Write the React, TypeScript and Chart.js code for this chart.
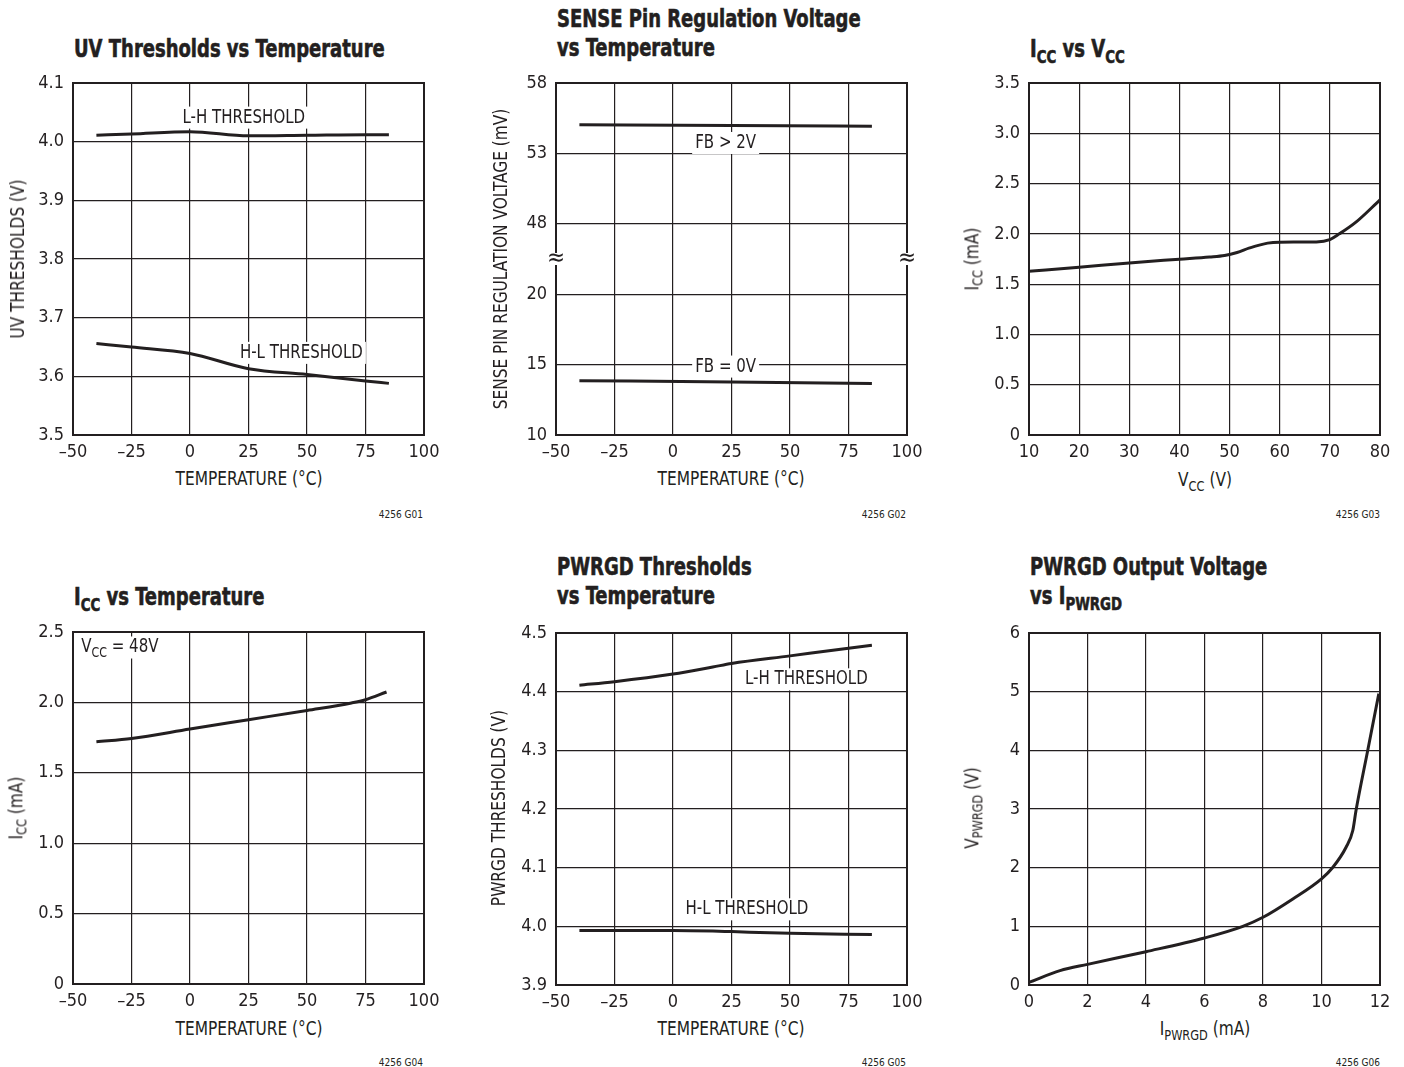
import React, { useEffect, useRef } from "react";
import { Chart, registerables } from "chart.js";
Chart.register(...registerables);

const FONT = '"Liberation Sans Narrow", "DejaVu Sans Condensed", "Arial Narrow", sans-serif';
const INK = "#231f20";

// ---------- Panel 1: UV thresholds vs temperature ----------
const uvTemp = [-40, -25, 0, 25, 50, 75, 85];
const uvLH = [4.011, 4.013, 4.017, 4.01, 4.011, 4.012, 4.012];
const uvHL = [3.656, 3.65, 3.639, 3.613, 3.603, 3.592, 3.588];

// ---------- Panel 2: SENSE pin regulation voltage (mV) ----------
const senseTemp = [-40, 25, 85];
const senseFB2V = [55.04, 54.98, 54.93];
const senseFB0V = [13.86, 13.77, 13.66];
const senseTicks = [10, 15, 20, 48, 53, 58];

// ---------- Panel 3: Icc vs Vcc ----------
const vccV = [10, 20, 30, 40, 46, 49, 51.5, 54, 57.6, 60, 67.3, 70, 71.9, 75.2, 80];
const vccI = [1.628, 1.668, 1.711, 1.748, 1.77, 1.785, 1.815, 1.86, 1.908, 1.917, 1.92, 1.943, 2.0, 2.116, 2.338];

// ---------- Panel 4: Icc vs temperature ----------
const iccTemp = [-40, -25, 0, 25, 50, 69, 75, 84];
const iccVal = [1.721, 1.744, 1.811, 1.877, 1.943, 1.996, 2.019, 2.074];

// ---------- Panel 5: PWRGD thresholds vs temperature ----------
const pgLHTemp = [-40, -25, 0, 17, 25, 50, 75, 85];
const pgLH = [4.411, 4.417, 4.43, 4.442, 4.448, 4.461, 4.474, 4.479];
const pgHLTemp = [-40, 0, 17, 25, 50, 85];
const pgHL = [3.993, 3.993, 3.992, 3.991, 3.988, 3.986];

// ---------- Panel 6: PWRGD output voltage vs I ----------
const pwI = [0, 1.06, 2, 4, 6, 7.31, 8, 9.02, 10, 10.39, 10.84, 11.07, 11.18, 11.58, 11.96];
const pwV = [0.045, 0.244, 0.352, 0.568, 0.802, 1.0, 1.154, 1.467, 1.809, 2.007, 2.348, 2.633, 2.974, 3.998, 4.966];

const senseMap = (mv: number) => (mv >= 48 ? 3 + (mv - 48) / 5 : (mv - 10) / 5);

type Part = { t: string; sub?: boolean };
type Note = { x: number; y: number; parts: Part[]; align: "center" | "left" };

const CW = 431;
const CH = 394;
const PAD_L = 60;
const PAD_T = 12;
const NARROW = 0.88;

function drawRich(ctx: CanvasRenderingContext2D, parts: Part[], x: number, y: number, align: string, size: number) {
  const big = `${size}px ${FONT}`;
  const small = `${Math.round(size * 0.72)}px ${FONT}`;
  let w = 0;
  const widths = parts.map((p) => {
    ctx.font = p.sub ? small : big;
    const m = ctx.measureText(p.t).width;
    w += m;
    return m;
  });
  const sw = w * NARROW;
  const x0 = align === "center" ? x - sw / 2 : x;
  ctx.fillStyle = "#fff";
  ctx.fillRect(x0 - 3, y - size * 0.58, sw + 6, size * 1.16);
  ctx.save();
  ctx.translate(x0, y);
  ctx.scale(NARROW, 1);
  ctx.fillStyle = INK;
  ctx.textBaseline = "middle";
  ctx.textAlign = "left";
  let cx = 0;
  parts.forEach((p, i) => {
    ctx.font = p.sub ? small : big;
    ctx.fillText(p.t, cx, p.sub ? size * 0.3 : 0);
    cx += widths[i];
  });
  ctx.restore();
}

const dash = (v: number) => (v < 0 ? "\u2013" + Math.abs(v) : String(v));

function buildConfig(p: {
  xMin: number; xMax: number; xStep: number;
  yMin: number; yMax: number; yStep: number;
  xFmt: (v: number) => string; yFmt: (v: number) => string;
  series: { x: number[]; y: number[] }[];
  notes?: Note[];
  breakMark?: number;
}): any {
  const overlay = {
    id: "overlay",
    afterDatasetsDraw(chart: any) {
      const ctx = chart.ctx as CanvasRenderingContext2D;
      const a = chart.chartArea;
      const xs = chart.scales.x;
      const ys = chart.scales.y;
      ctx.save();
      (p.notes || []).forEach((n) => {
        drawRich(ctx, n.parts, xs.getPixelForValue(n.x), ys.getPixelForValue(n.y), n.align, 19);
      });
      ctx.strokeStyle = INK;
      ctx.lineWidth = 2;
      ctx.strokeRect(a.left, a.top, a.right - a.left, a.bottom - a.top);
      if (p.breakMark !== undefined) {
        const by = ys.getPixelForValue(p.breakMark);
        [a.left, a.right].forEach((bx) => {
          ctx.fillStyle = "#fff";
          ctx.fillRect(bx - 3, by - 6, 6, 12);
          ctx.fillStyle = INK;
          ctx.font = `24px ${FONT}`;
          ctx.textAlign = "center";
          ctx.textBaseline = "middle";
          ctx.fillText("\u2248", bx, by);
        });
      }
      ctx.restore();
    },
  };
  const tickFont = { family: FONT, size: 18 };
  return {
    type: "scatter",
    data: {
      datasets: p.series.map((s) => ({
        data: s.x.map((x, i) => ({ x, y: s.y[i] })),
        showLine: true,
        borderColor: INK,
        backgroundColor: INK,
        borderWidth: 3,
        pointRadius: 0,
        cubicInterpolationMode: "monotone",
        fill: false,
      })),
    },
    options: {
      animation: false,
      responsive: false,
      maintainAspectRatio: false,
      devicePixelRatio: 1,
      layout: { padding: { left: 0, top: PAD_T, right: 20, bottom: 0 } },
      plugins: { legend: { display: false }, tooltip: { enabled: false }, title: { display: false } },
      scales: {
        x: {
          type: "linear",
          min: p.xMin,
          max: p.xMax,
          ticks: { stepSize: p.xStep, callback: (v: number) => p.xFmt(v), font: tickFont, color: INK, padding: 7, maxRotation: 0, autoSkip: false },
          grid: { color: INK, lineWidth: 1.2, drawTicks: false },
          border: { display: false },
          afterFit: (s: any) => { s.height = 30; s.paddingLeft = 0; s.paddingRight = 0; },
        },
        y: {
          type: "linear",
          min: p.yMin,
          max: p.yMax,
          ticks: { stepSize: p.yStep, callback: (v: number) => p.yFmt(v), font: tickFont, color: INK, padding: 9, autoSkip: false },
          grid: { color: INK, lineWidth: 1.2, drawTicks: false },
          border: { display: false },
          afterFit: (s: any) => { s.width = PAD_L; s.paddingTop = 0; s.paddingBottom = 0; },
        },
      },
    },
    plugins: [overlay],
  };
}

function ChartBox({ L, T, config }: { L: number; T: number; config: any }) {
  const ref = useRef<HTMLCanvasElement>(null);
  useEffect(() => {
    const c = new Chart(ref.current as HTMLCanvasElement, config);
    return () => c.destroy();
  }, []);
  return (
    <canvas
      ref={ref}
      width={CW}
      height={CH}
      style={{ position: "absolute", left: L - PAD_L, top: T - PAD_T, width: CW, height: CH }}
    />
  );
}

const Sub = ({ children }: { children: any }) => (
  <span style={{ fontSize: "0.74em", verticalAlign: "-0.3em" }}>{children}</span>
);

function Title({ left, top, children }: { left: number; top: number; children: any }) {
  return (
    <div
      style={{
        position: "absolute", left, top, font: `bold 25px ${FONT}`, lineHeight: "29px", color: INK,
        whiteSpace: "nowrap", transform: "scaleX(0.8)", transformOrigin: "0 0",
        WebkitTextStroke: `0.6px ${INK}`,
      } as any}
    >
      {children}
    </div>
  );
}

function XTitle({ cx, cy, children }: { cx: number; cy: number; children: any }) {
  return (
    <div style={{ position: "absolute", left: cx, top: cy, transform: "translate(-50%,-50%) scaleX(0.9)", font: `19px ${FONT}`, color: INK, whiteSpace: "nowrap" }}>
      {children}
    </div>
  );
}

function YTitle({ cx, cy, children }: { cx: number; cy: number; children: any }) {
  return (
    <div style={{ position: "absolute", left: cx, top: cy, transform: "translate(-50%,-50%) rotate(-90deg) scaleX(0.9)", font: `19px ${FONT}`, color: INK, whiteSpace: "nowrap" }}>
      {children}
    </div>
  );
}

function Foot({ right, cy, children }: { right: number; cy: number; children: any }) {
  return (
    <div style={{ position: "absolute", left: right - 100, width: 100, top: cy - 7, textAlign: "right", font: `10px ${FONT}`, lineHeight: "14px", color: INK }}>
      {children}
    </div>
  );
}

const f1 = (v: number) => (Math.abs(v) < 1e-9 ? "0" : v.toFixed(1));
const fi = (v: number) => String(Math.round(v));

export default function App() {
  const c1 = buildConfig({
    xMin: -50, xMax: 100, xStep: 25, yMin: 3.5, yMax: 4.1, yStep: 0.1,
    xFmt: dash, yFmt: (v) => v.toFixed(1),
    series: [{ x: uvTemp, y: uvLH }, { x: uvTemp, y: uvHL }],
    notes: [
      { x: 23, y: 4.041, parts: [{ t: "L-H THRESHOLD" }], align: "center" },
      { x: 47.6, y: 3.64, parts: [{ t: "H-L THRESHOLD" }], align: "center" },
    ],
  });
  const c2 = buildConfig({
    xMin: -50, xMax: 100, xStep: 25, yMin: 0, yMax: 5, yStep: 1,
    xFmt: dash, yFmt: (v) => String(senseTicks[Math.round(v)]),
    series: [
      { x: senseTemp, y: senseFB2V.map(senseMap) },
      { x: senseTemp, y: senseFB0V.map(senseMap) },
    ],
    notes: [
      { x: 22.5, y: senseMap(53.74), parts: [{ t: "FB > 2V" }], align: "center" },
      { x: 22.5, y: senseMap(14.86), parts: [{ t: "FB = 0V" }], align: "center" },
    ],
    breakMark: 2.5,
  });
  const c3 = buildConfig({
    xMin: 10, xMax: 80, xStep: 10, yMin: 0, yMax: 3.5, yStep: 0.5,
    xFmt: fi, yFmt: f1,
    series: [{ x: vccV, y: vccI }],
  });
  const c4 = buildConfig({
    xMin: -50, xMax: 100, xStep: 25, yMin: 0, yMax: 2.5, yStep: 0.5,
    xFmt: dash, yFmt: f1,
    series: [{ x: iccTemp, y: iccVal }],
    notes: [{ x: -46.5, y: 2.39, parts: [{ t: "V" }, { t: "CC", sub: true }, { t: " = 48V" }], align: "left" }],
  });
  const c5 = buildConfig({
    xMin: -50, xMax: 100, xStep: 25, yMin: 3.9, yMax: 4.5, yStep: 0.1,
    xFmt: dash, yFmt: (v) => v.toFixed(1),
    series: [{ x: pgLHTemp, y: pgLH }, { x: pgHLTemp, y: pgHL }],
    notes: [
      { x: 57, y: 4.421, parts: [{ t: "L-H THRESHOLD" }], align: "center" },
      { x: 31.6, y: 4.029, parts: [{ t: "H-L THRESHOLD" }], align: "center" },
    ],
  });
  const c6 = buildConfig({
    xMin: 0, xMax: 12, xStep: 2, yMin: 0, yMax: 6, yStep: 1,
    xFmt: fi, yFmt: fi,
    series: [{ x: pwI, y: pwV }],
  });

  return (
    <div style={{ position: "absolute", left: 0, top: 0, width: 1404, height: 1067, background: "#fff", overflow: "hidden" }}>
      <Title left={74} top={34}>UV Thresholds vs Temperature</Title>
      <Title left={557} top={4}>SENSE Pin Regulation Voltage<br />vs Temperature</Title>
      <Title left={1030} top={34}>I<Sub>CC</Sub> vs V<Sub>CC</Sub></Title>
      <Title left={74} top={582}>I<Sub>CC</Sub> vs Temperature</Title>
      <Title left={557} top={552}>PWRGD Thresholds<br />vs Temperature</Title>
      <Title left={1030} top={552}>PWRGD Output Voltage<br />vs I<Sub>PWRGD</Sub></Title>

      <ChartBox L={73} T={83} config={c1} />
      <ChartBox L={556} T={83} config={c2} />
      <ChartBox L={1029} T={83} config={c3} />
      <ChartBox L={73} T={632} config={c4} />
      <ChartBox L={556} T={633} config={c5} />
      <ChartBox L={1029} T={633} config={c6} />

      <YTitle cx={17} cy={259}>UV THRESHOLDS (V)</YTitle>
      <YTitle cx={500} cy={259}>SENSE PIN REGULATION VOLTAGE (mV)</YTitle>
      <YTitle cx={973} cy={259}>I<Sub>CC</Sub> (mA)</YTitle>
      <YTitle cx={17} cy={808}>I<Sub>CC</Sub> (mA)</YTitle>
      <YTitle cx={498} cy={808}>PWRGD THRESHOLDS (V)</YTitle>
      <YTitle cx={973} cy={808}>V<Sub>PWRGD</Sub> (V)</YTitle>

      <XTitle cx={249} cy={478}>TEMPERATURE (°C)</XTitle>
      <XTitle cx={731} cy={478}>TEMPERATURE (°C)</XTitle>
      <XTitle cx={1205} cy={481}>V<Sub>CC</Sub> (V)</XTitle>
      <XTitle cx={249} cy={1028}>TEMPERATURE (°C)</XTitle>
      <XTitle cx={731} cy={1028}>TEMPERATURE (°C)</XTitle>
      <XTitle cx={1205} cy={1030}>I<Sub>PWRGD</Sub> (mA)</XTitle>

      <Foot right={423} cy={515}>4256 G01</Foot>
      <Foot right={906} cy={515}>4256 G02</Foot>
      <Foot right={1380} cy={515}>4256 G03</Foot>
      <Foot right={423} cy={1063}>4256 G04</Foot>
      <Foot right={906} cy={1063}>4256 G05</Foot>
      <Foot right={1380} cy={1063}>4256 G06</Foot>
    </div>
  );
}
